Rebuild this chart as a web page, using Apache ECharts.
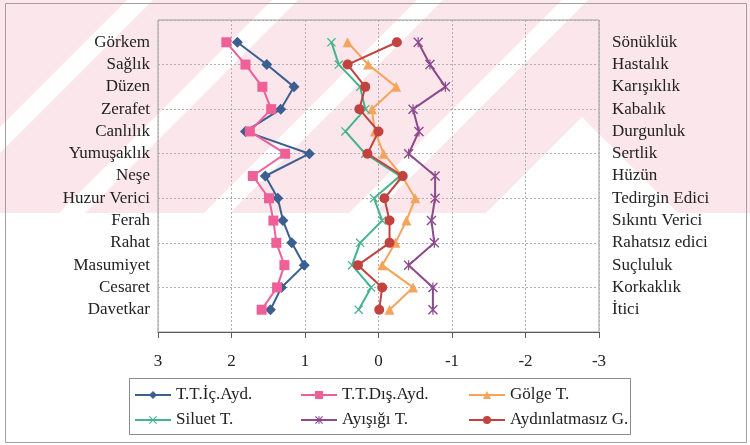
<!DOCTYPE html>
<html>
<head>
<meta charset="utf-8">
<script src="https://cdn.jsdelivr.net/npm/echarts@6/dist/echarts.min.js"></script>
<style>
  html, body { margin: 0; padding: 0; background: #ffffff; }
  #chart { width: 750px; height: 445px; }
</style>
</head>
<body>
<div id="chart"></div>
<script>
// Positive adjectives (left) and their opposites (right), top to bottom
const categories = ['Görkem', 'Sağlık', 'Düzen', 'Zerafet', 'Canlılık', 'Yumuşaklık', 'Neşe',
  'Huzur Verici', 'Ferah', 'Rahat', 'Masumiyet', 'Cesaret', 'Davetkar'];
const opposites = ['Sönüklük', 'Hastalık', 'Karışıklık', 'Kabalık', 'Durgunluk', 'Sertlik', 'Hüzün',
  'Tedirgin Edici', 'Sıkıntı Verici', 'Rahatsız edici', 'Suçluluk', 'Korkaklık', 'İtici'];
const xTicks = [3, 2, 1, 0, -1, -2, -3];

// Mean scores per lighting scenario (same order as categories)
const icAyd = [1.92, 1.52, 1.15, 1.33, 1.81, 0.94, 1.54, 1.37, 1.30, 1.18, 1.01, 1.32, 1.47];
const disAyd = [2.07, 1.81, 1.58, 1.46, 1.75, 1.27, 1.71, 1.49, 1.43, 1.39, 1.28, 1.38, 1.59];
const golge = [0.42, 0.14, -0.24, 0.09, 0.05, -0.07, -0.32, -0.50, -0.38, -0.23, -0.05, -0.47, -0.15];
const siluet = [0.64, 0.54, 0.25, 0.18, 0.45, 0.18, -0.29, 0.06, -0.05, 0.25, 0.36, 0.10, 0.27];
const ayisigi = [-0.54, -0.70, -0.91, -0.47, -0.55, -0.41, -0.77, -0.77, -0.72, -0.76, -0.41, -0.74, -0.74];
const aydinlatmasiz = [-0.25, 0.42, 0.18, 0.26, 0.00, 0.15, -0.33, -0.08, -0.15, -0.15, 0.28, -0.05, -0.01];

const seriesNames = ['T.T.İç.Ayd.', 'T.T.Dış.Ayd.', 'Gölge T.', 'Siluet T.', 'Ayışığı T.', 'Aydınlatmasız G.'];

const n = categories.length;
const rowPos = categories.map((c, i) => n - i);      // 13 at top ... 1 at bottom
const toPoints = vals => vals.map((v, i) => [v, rowPos[i]]);

const serif = 'Liberation Serif, Times New Roman, serif';
const FS = 17;
const xMark = 'path://M0,1 L1,0 L10,9 L9,10 Z M9,0 L10,1 L1,10 L0,9 Z';
const starMark = 'path://M0,1 L1,0 L10,9 L9,10 Z M9,0 L10,1 L1,10 L0,9 Z M4.4,0 L5.6,0 L5.6,10 L4.4,10 Z';

const styles = [
  { color: '#3b5f91', symbol: 'diamond', size: 11 },
  { color: '#ef5f98', symbol: 'rect', size: 10 },
  { color: '#f6a45c', symbol: 'triangle', size: 10 },
  { color: '#45b38d', symbol: xMark, size: 9 },
  { color: '#8c4a8d', symbol: starMark, size: 10 },
  { color: '#c2423f', symbol: 'circle', size: 10 }
];
const values = [icAyd, disAyd, golge, siluet, ayisigi, aydinlatmasiz];

const series = values.map((vals, k) => ({
  name: seriesNames[k],
  type: 'line',
  data: toPoints(vals),
  symbol: styles[k].symbol,
  symbolSize: styles[k].size,
  symbolKeepAspect: true,
  showAllSymbol: true,
  lineStyle: { color: styles[k].color, width: 2 },
  itemStyle: { color: styles[k].color },
  emphasis: { disabled: true },
  animation: false,
  z: 2 + k
}));

const legendBase = {
  orient: 'vertical',
  itemWidth: 36,
  itemHeight: 10,
  itemGap: 7,
  padding: 0,
  textStyle: { fontFamily: serif, fontSize: FS, color: '#222', lineHeight: 18 },
  selectedMode: false
};

// Faint diagonal watermark across the upper part of the page
const markH = 213;
const stripeCenters = [140, 285, 430, 575];
const stripeW = 26;
const watermark = [
  { type: 'rect', shape: { x: 0, y: 0, width: 750, height: markH },
    style: { fill: '#fbe6eb' }, z: -10, silent: true },
  { type: 'polygon', shape: { points: [[582, 117], [486, markH], [678, markH]] },
    style: { fill: '#ffffff' }, z: -9, silent: true }
].concat(stripeCenters.map(c => ({
  type: 'polygon',
  shape: { points: [[c - stripeW / 2, 0], [c + stripeW / 2, 0],
    [c + stripeW / 2 - markH, markH], [c - stripeW / 2 - markH, markH]] },
  style: { fill: '#ffffff' }, z: -9, silent: true
})));

const chart = echarts.init(document.getElementById('chart'), null, { renderer: 'canvas' });
chart.setOption({
  backgroundColor: '#ffffff',
  animation: false,
  grid: { left: 158, right: 151, top: 20, bottom: 113, show: true, borderColor: '#9a9a9a', borderWidth: 1 },
  xAxis: {
    type: 'value', min: -3, max: 3, interval: 1, inverse: true,
    axisLine: { show: true, lineStyle: { color: '#5a5a5a', width: 1 } },
    axisTick: { show: true, length: 6, lineStyle: { color: '#5a5a5a' } },
    axisLabel: {
      margin: 21, fontFamily: serif, fontSize: FS, color: '#222',
      formatter: v => String(xTicks[xTicks.indexOf(v)])
    },
    splitLine: { show: true, lineStyle: { color: '#b0b0b0', type: [2, 2], width: 1 } }
  },
  yAxis: [
    {
      type: 'value', min: 0, max: 14, interval: 2, position: 'left',
      axisLine: { show: false }, axisTick: { show: false },
      splitLine: { show: true, lineStyle: { color: '#b0b0b0', type: [2, 2], width: 1 } },
      axisLabel: {
        customValues: rowPos, margin: 8, fontFamily: serif, fontSize: FS, color: '#222',
        formatter: v => categories[n - v]
      }
    },
    {
      type: 'value', min: 0, max: 14, position: 'right',
      axisLine: { show: false }, axisTick: { show: false }, splitLine: { show: false },
      axisLabel: {
        customValues: rowPos, margin: 13, fontFamily: serif, fontSize: FS, color: '#222',
        align: 'left', formatter: v => opposites[n - v]
      }
    }
  ],
  legend: [
    Object.assign({}, legendBase, { left: 134, top: 386, data: [seriesNames[0], seriesNames[3]] }),
    Object.assign({}, legendBase, { left: 300, top: 386, data: [seriesNames[1], seriesNames[4]] }),
    Object.assign({}, legendBase, { left: 468, top: 386, data: [seriesNames[2], seriesNames[5]] })
  ],
  graphic: watermark.concat([
    { type: 'rect', shape: { x: 129.5, y: 378.5, width: 501, height: 56 },
      style: { fill: 'none', stroke: '#8a8a8a', lineWidth: 1 }, z: 0, silent: true },
    { type: 'rect', shape: { x: 5.5, y: 3.5, width: 741, height: 439 },
      style: { fill: 'none', stroke: '#a0a0a0', lineWidth: 1 }, z: 0, silent: true }
  ]),
  series: series
});
</script>
</body>
</html>
